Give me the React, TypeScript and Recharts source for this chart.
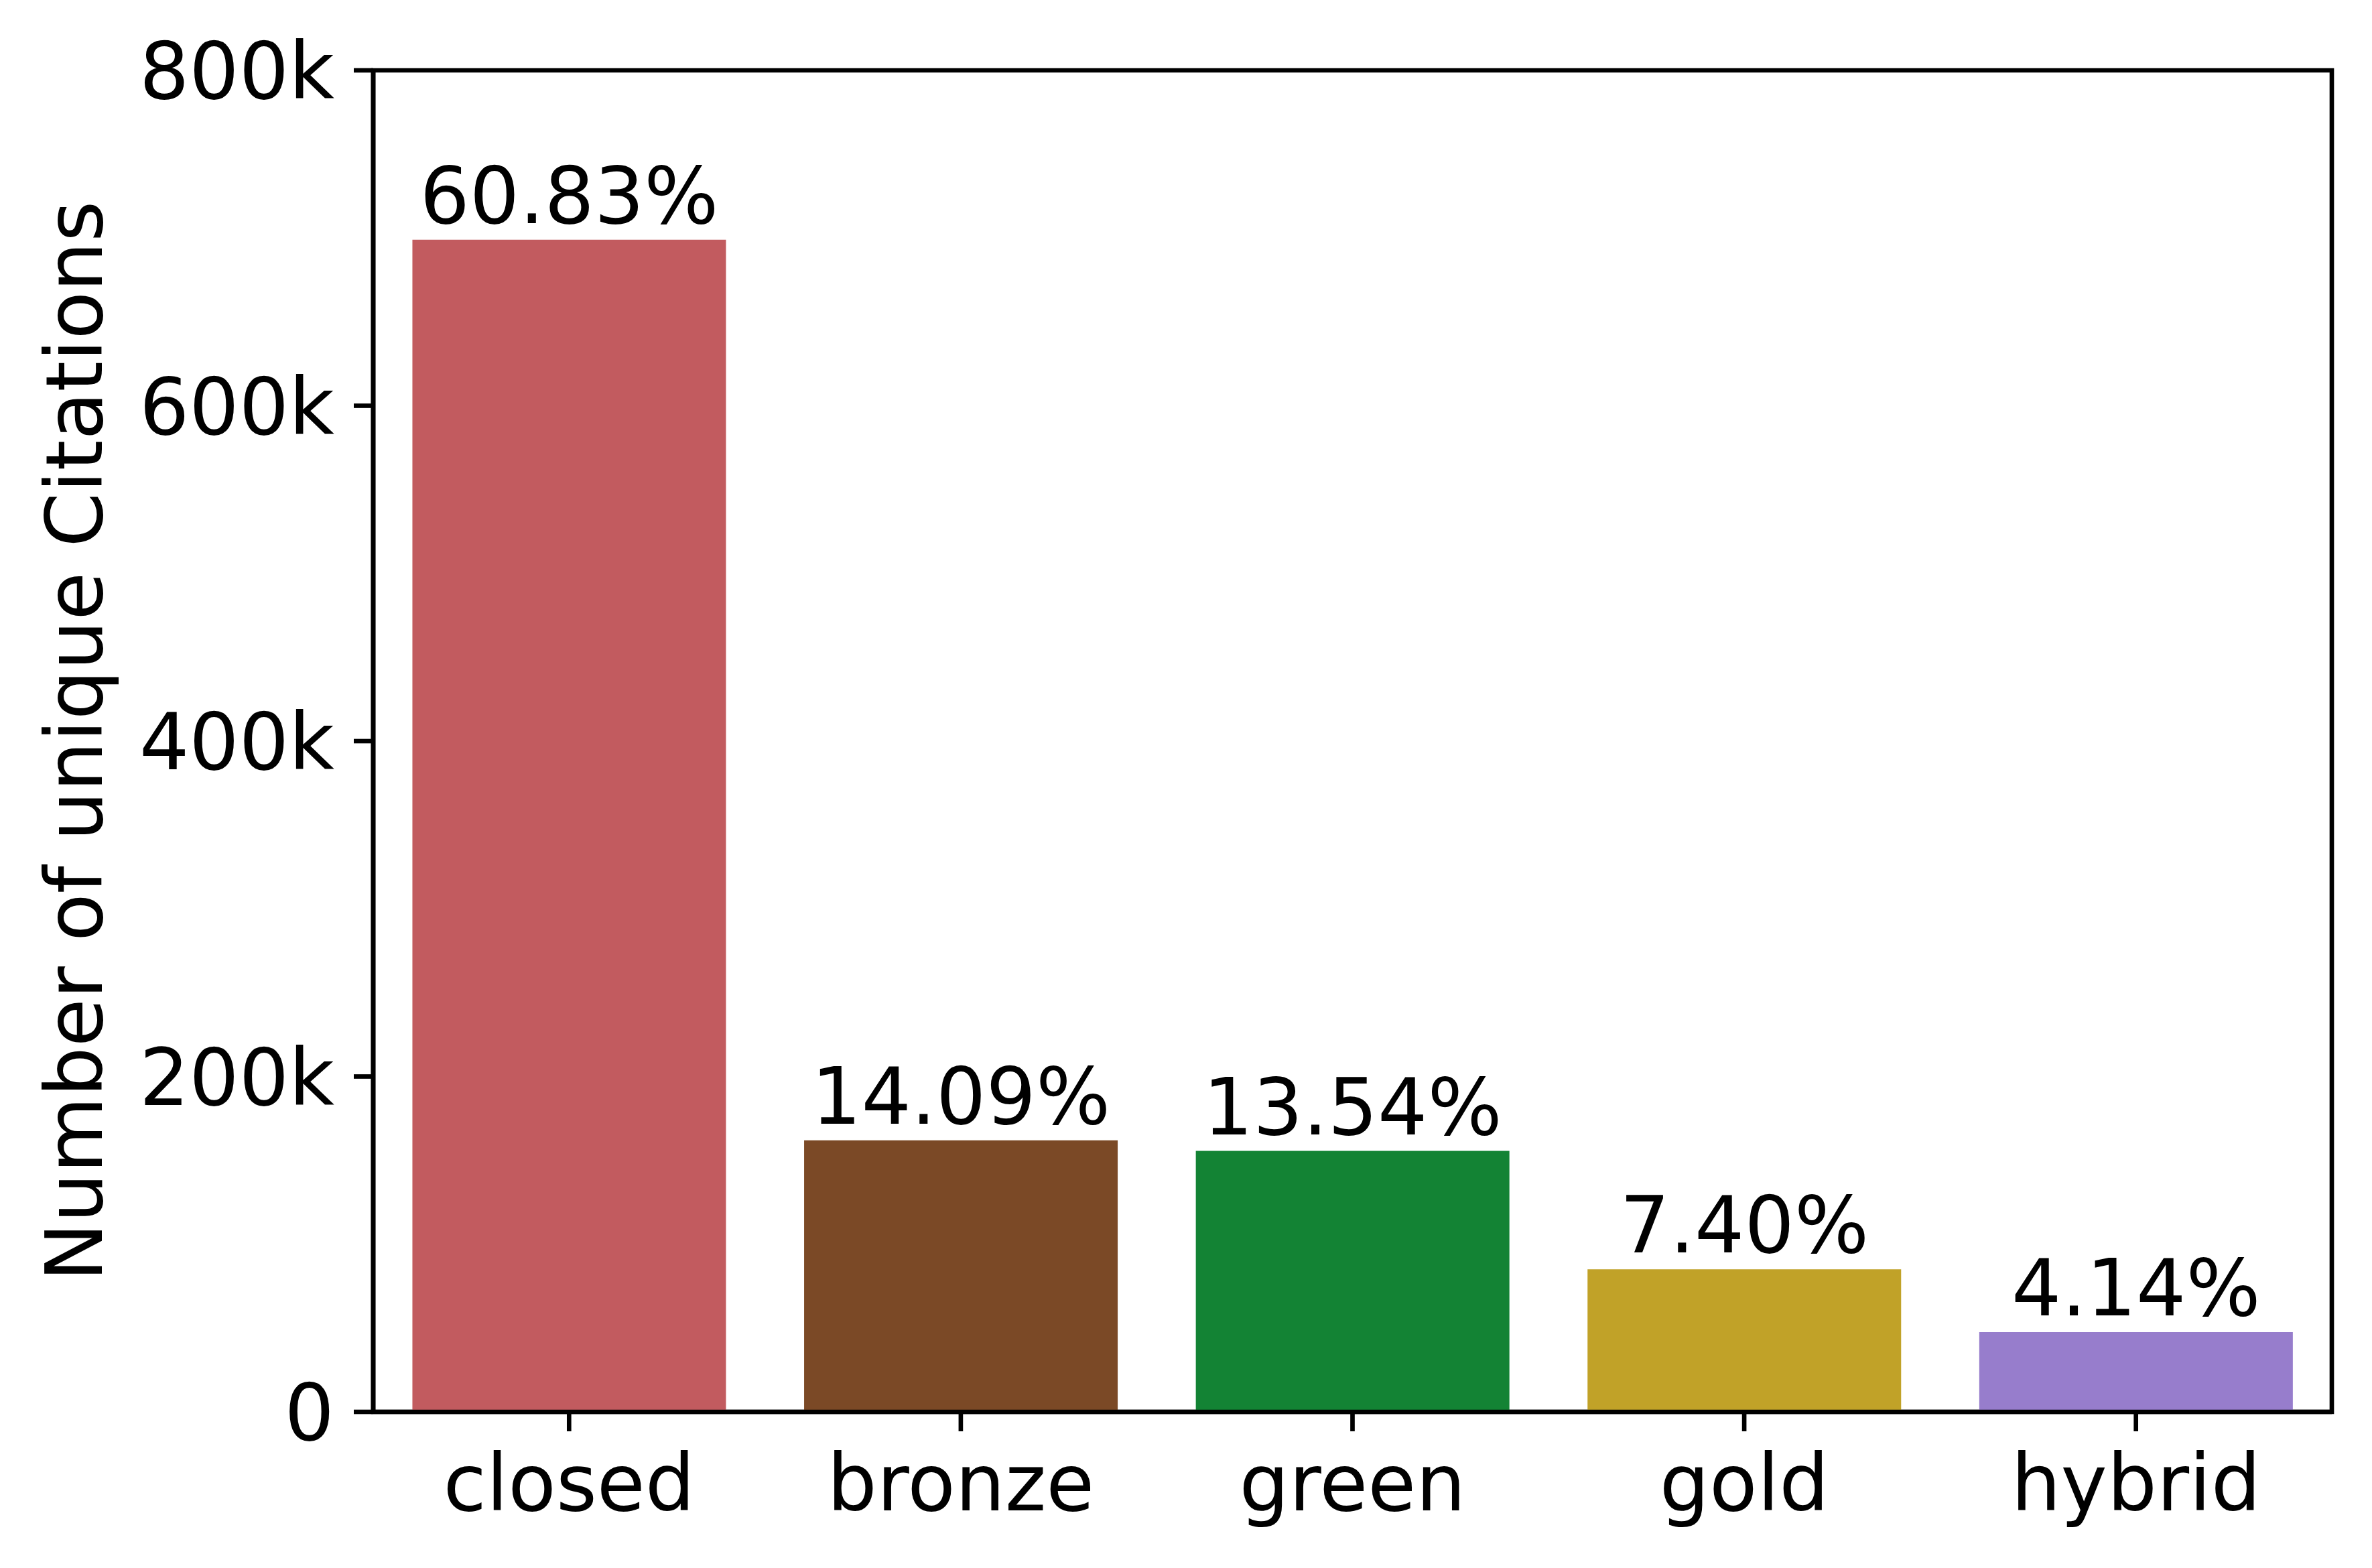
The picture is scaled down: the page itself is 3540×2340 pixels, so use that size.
import React from 'react';
import { BarChart, Bar, XAxis, YAxis, Cell, LabelList, ReferenceArea } from 'recharts';

const categories = ['closed', 'bronze', 'green', 'gold', 'hybrid'];
const citations = [699000, 161900, 155600, 85000, 47600];
const percentLabels = ['60.83%', '14.09%', '13.54%', '7.40%', '4.14%'];
const barColors = ['#C25B5F', '#7B4926', '#138334', '#C1A228', '#977DCC'];
const yTicks = [0, 200000, 400000, 600000, 800000];
const yLabel = 'Number of unique Citations';

const data = categories.map((c, i) => ({ category: c, value: citations[i], pct: percentLabels[i] }));

const FONT = 'DejaVu Sans';
const FS = 117;
const LW = 6.67;

const fmtY = (v: number) => (v === 0 ? '0' : `${Math.round(v / 1000)}k`);

const XTick = (props: any) => {
  const { x, y, payload } = props;
  return (
    <text x={x} y={y + 0.76 * FS} textAnchor="middle" fontFamily={FONT} fontSize={FS} fill="#000">
      {payload.value}
    </text>
  );
};

const YTick = (props: any) => {
  const { x, y, payload } = props;
  return (
    <text x={x} y={y} dy={0.36 * FS} textAnchor="end" fontFamily={FONT} fontSize={FS} fill="#000">
      {fmtY(payload.value)}
    </text>
  );
};

const BarLabel = (props: any) => {
  const { x, y, width, value } = props;
  return (
    <text x={x + width / 2} y={y - 25} textAnchor="middle" fontFamily={FONT} fontSize={FS} fill="#000">
      {value}
    </text>
  );
};

const YAxisLabel = (props: any) => {
  const vb = props.viewBox || { x: 0, y: 105, width: 557, height: 2002 };
  const cx = vb.x + 152;
  const cy = vb.y + vb.height / 2;
  return (
    <text
      x={cx}
      y={cy}
      transform={`rotate(-90, ${cx}, ${cy})`}
      textAnchor="middle"
      fontFamily={FONT}
      fontSize={FS}
      fill="#000"
    >
      {yLabel}
    </text>
  );
};

export default function App() {
  return (
    <div style={{ position: 'absolute', left: 0, top: 0, width: 3540, height: 2340, background: '#fff' }}>
      <BarChart
        width={3540}
        height={2340}
        data={data}
        margin={{ top: 105, right: 60, bottom: 0, left: 0 }}
        barCategoryGap="10%"
      >
        <XAxis
          dataKey="category"
          height={233}
          interval={0}
          tickSize={29}
          tickMargin={29}
          tick={<XTick />}
          axisLine={{ stroke: '#000', strokeWidth: LW }}
          tickLine={{ stroke: '#000', strokeWidth: LW }}
        />
        <YAxis
          width={557}
          domain={[0, 800000]}
          ticks={yTicks}
          interval={0}
          tickSize={29}
          tickMargin={29}
          tick={<YTick />}
          axisLine={{ stroke: '#000', strokeWidth: LW }}
          tickLine={{ stroke: '#000', strokeWidth: LW }}
          label={<YAxisLabel />}
        />
        <Bar dataKey="value" isAnimationActive={false}>
          {data.map((d, i) => (
            <Cell key={d.category} fill={barColors[i]} />
          ))}
          <LabelList dataKey="pct" content={<BarLabel />} />
        </Bar>
        <ReferenceArea
          y1={0}
          y2={800000}
          fill="none"
          fillOpacity={0}
          stroke="#000"
          strokeWidth={LW}
          strokeOpacity={1}
          ifOverflow="visible"
        />
      </BarChart>
    </div>
  );
}
